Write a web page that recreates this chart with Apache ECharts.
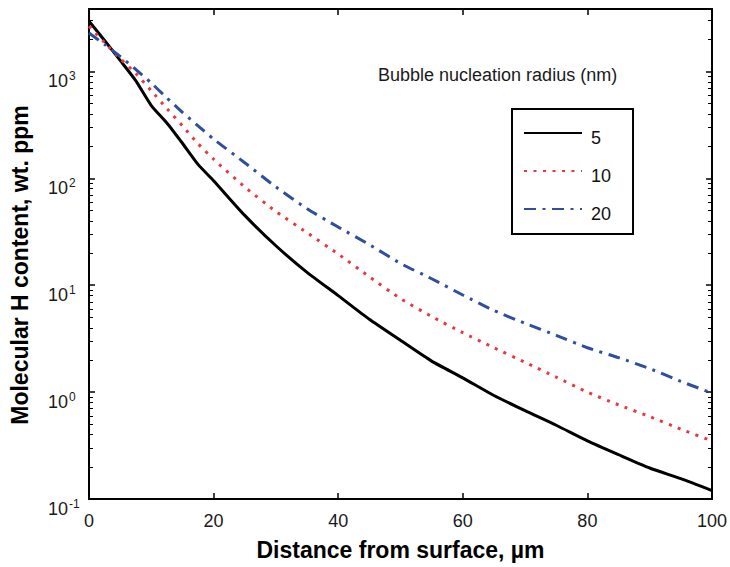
<!DOCTYPE html>
<html><head><meta charset="utf-8">
<script src="https://cdn.jsdelivr.net/npm/echarts@6/dist/echarts.min.js"></script>
<style>html,body{margin:0;padding:0;background:#fff}#c{width:730px;height:567px}</style>
</head><body><div id="c"></div>
<script>
// Distance from surface (µm)
const distance = [0, 2.5, 5, 7.5, 10, 12.5, 15, 17.5, 20, 25, 30, 35, 40, 45, 50, 55, 60, 65, 70, 75, 80, 85, 90, 95, 100];
// Molecular H content (wt. ppm) for bubble nucleation radius 5, 10, 20 nm
const h5  = [2960, 1950, 1270, 820, 480, 330, 213, 135, 95, 45, 23.4, 13.2, 8.0, 4.8, 3.05, 1.95, 1.36, 0.93, 0.67, 0.49, 0.35, 0.26, 0.195, 0.155, 0.12];
const h10 = [2650, 1860, 1320, 960, 660, 450, 310, 211, 151, 83, 49, 31, 19.6, 12, 7.5, 5.1, 3.6, 2.6, 1.9, 1.38, 1.0, 0.76, 0.59, 0.45, 0.35];
const h20 = [2290, 1790, 1380, 1045, 780, 565, 415, 310, 233, 140, 83, 52, 35, 24, 16, 11.5, 8.1, 5.8, 4.4, 3.4, 2.6, 2.1, 1.66, 1.26, 0.98];
const seriesNames = ['5', '10', '20'];
const majorTicks = [0.1, 1, 10, 100, 1000];
const minorTicks = [0.2,0.3,0.4,0.5,0.6,0.7,0.8,0.9, 2,3,4,5,6,7,8,9, 20,30,40,50,60,70,80,90, 200,300,400,500,600,700,800,900, 2000,3000];
const yMin = 0.1, yMax = 3840;

const FONT = 'Liberation Sans, Arial, Helvetica, sans-serif';
const pairs = arr => distance.map((d, i) => [d, arr[i]]);

const chart = echarts.init(document.getElementById('c'), null, {renderer: 'svg'});

// label kinds: 'base' draws the "10", 'exp' draws the superscript exponent
function yAxisDef(pos, major, labelKind) {
  let axisLabel = {show: false};
  if (labelKind === 'base') {
    axisLabel = {show: true, customValues: majorTicks, margin: 21,
      formatter: () => '10', fontSize: 18, fontFamily: FONT, color: '#1a1a1a',
      verticalAlign: 'top', lineHeight: 19};
  } else if (labelKind === 'exp') {
    axisLabel = {show: true, customValues: majorTicks, margin: 20, align: 'left',
      formatter: v => String(Math.round(Math.log10(v))), fontSize: 12, fontFamily: FONT, color: '#1a1a1a',
      verticalAlign: 'top', lineHeight: 9};
  }
  return {
    type: 'log', logBase: 10, min: yMin, max: yMax, position: pos,
    axisLine: {show: major, lineStyle: {color: '#000', width: 2}},
    axisTick: {show: true, inside: true, length: major ? 6 : 4,
      customValues: major ? majorTicks : minorTicks,
      lineStyle: {color: '#000', width: major ? 1.5 : 1}},
    minorTick: {show: false},
    splitLine: {show: false},
    axisLabel: axisLabel
  };
}

const lineW = 3;
chart.setOption({
  animation: false,
  backgroundColor: '#fff',
  grid: {left: 89, right: 14, top: 9, bottom: 68, containLabel: false},
  xAxis: [
    {type: 'value', min: 0, max: 100, interval: 20, position: 'bottom',
     name: 'Distance from surface, µm', nameLocation: 'middle', nameGap: 39,
     nameTextStyle: {fontSize: 23, fontWeight: 'bold', fontFamily: FONT, color: '#000'},
     axisLine: {lineStyle: {color: '#000', width: 2}},
     axisTick: {inside: true, length: 6, lineStyle: {color: '#000', width: 1.5}},
     axisLabel: {fontSize: 18, fontFamily: FONT, color: '#1a1a1a', margin: 13},
     splitLine: {show: false}},
    {type: 'value', min: 0, max: 100, interval: 20, position: 'top',
     axisLine: {lineStyle: {color: '#000', width: 2}},
     axisTick: {inside: true, length: 6, lineStyle: {color: '#000', width: 1.5}},
     axisLabel: {show: false}, splitLine: {show: false}}
  ],
  yAxis: [
    yAxisDef('left', true, 'base'),
    yAxisDef('left', false, 'exp'),
    yAxisDef('right', true, null),
    yAxisDef('right', false, null)
  ],
  legend: {
    data: seriesNames,
    orient: 'vertical', left: 512, top: 109,
    itemWidth: 58, itemHeight: 20, itemGap: 10,
    padding: [10, 22, 11, 11],
    borderColor: '#000', borderWidth: 2,
    backgroundColor: '#fff',
    itemStyle: {opacity: 0},
    formatter: n => '{t|' + n + '}',
    textStyle: {
      fontSize: 18, fontFamily: FONT, color: '#111',
      rich: {t: {fontSize: 18, fontFamily: FONT, color: '#111', lineHeight: 20, padding: [10, 0, 0, 4]}}
    }
  },
  graphic: [
    {type: 'text', left: 378, top: 66, silent: true,
     style: {text: 'Bubble nucleation radius (nm)', font: '18px ' + FONT, fill: '#1a1a1a'}},
    {type: 'text', x: 20, y: 265, rotation: Math.PI / 2, silent: true,
     style: {text: 'Molecular H content, wt. ppm', font: 'bold 23px ' + FONT, fill: '#000',
             textAlign: 'center', textVerticalAlign: 'middle'}}
  ],
  series: [
    {name: seriesNames[0], type: 'line', data: pairs(h5), showSymbol: false, symbol: 'none', smooth: 0.2,
     lineStyle: {color: '#000', width: lineW}, itemStyle: {color: '#000'}},
    {name: seriesNames[1], type: 'line', data: pairs(h10), showSymbol: false, symbol: 'none', smooth: 0.2,
     lineStyle: {color: '#e8383d', width: lineW, type: [3, 6.5]}, itemStyle: {color: '#e8383d'}},
    {name: seriesNames[2], type: 'line', data: pairs(h20), showSymbol: false, symbol: 'none', smooth: 0.2,
     lineStyle: {color: '#2d4f9e', width: lineW, type: [12, 6.5, 3, 6.5]}, itemStyle: {color: '#2d4f9e'}}
  ]
});
</script></body></html>
